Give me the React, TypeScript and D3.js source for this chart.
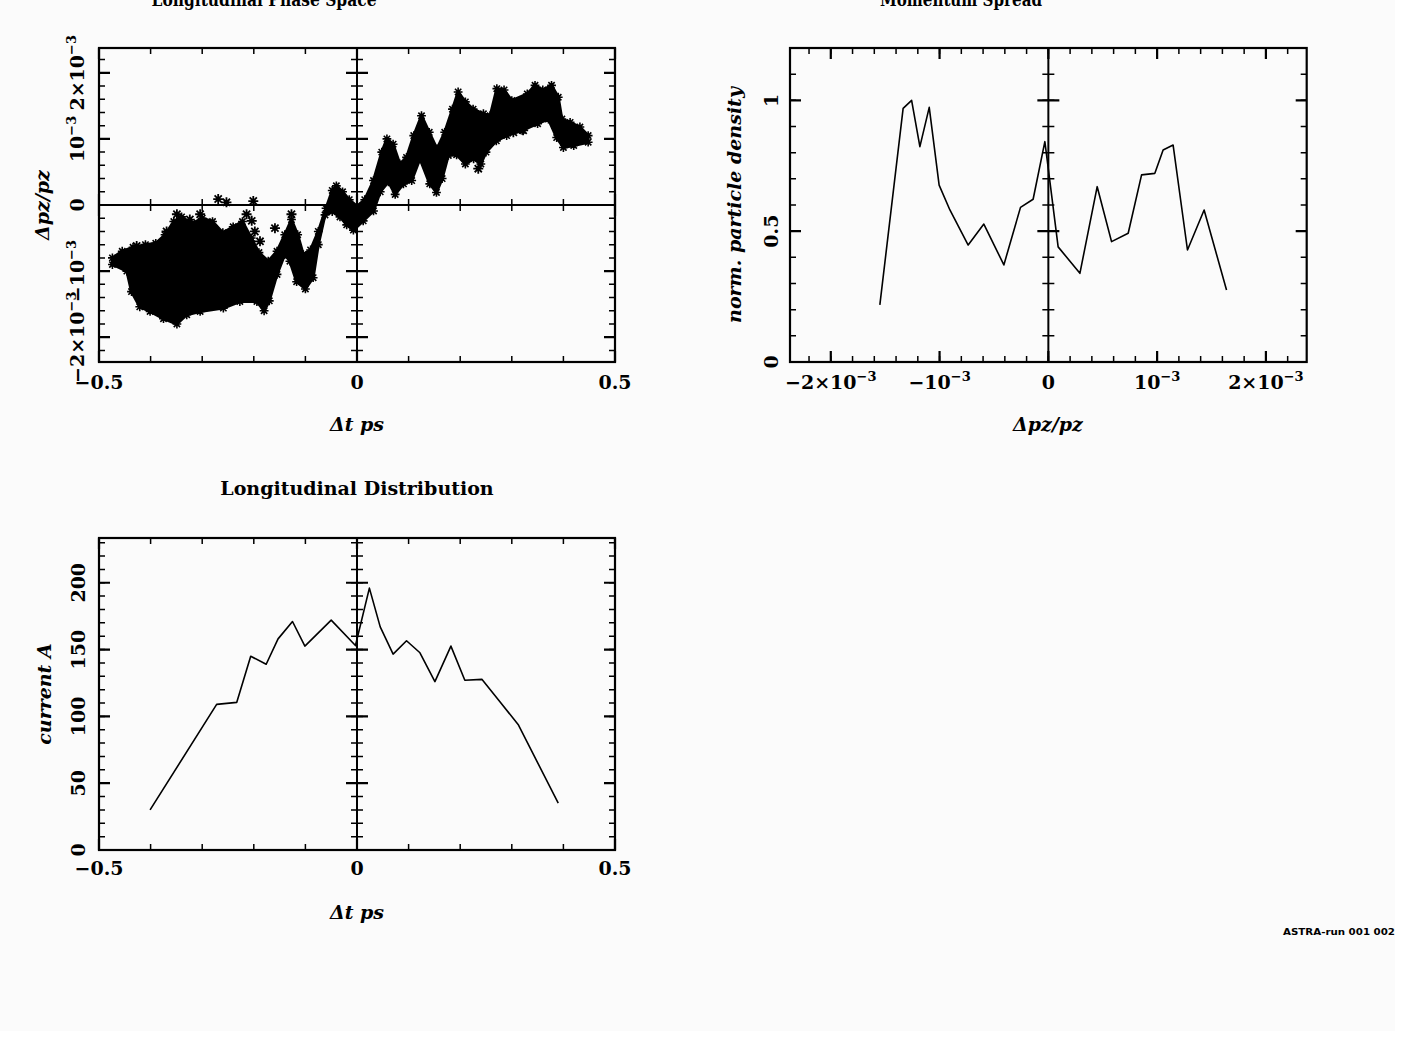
import React from "react";
import * as d3 from "d3";

// ---- values ----

// phase space cloud outline: dt [ps], dpz/pz in units of 1e-3
const cloudTopT = [-0.474, -0.455, -0.434, -0.41, -0.39, -0.372, -0.355, -0.34, -0.32, -0.3, -0.28, -0.26, -0.24, -0.222, -0.205, -0.19, -0.172, -0.155, -0.14, -0.127, -0.115, -0.104, -0.09, -0.075, -0.06, -0.048, -0.04, -0.028, -0.015, 0.0, 0.015, 0.032, 0.048, 0.058, 0.07, 0.083, 0.096, 0.11, 0.125, 0.14, 0.155, 0.17, 0.185, 0.196, 0.21, 0.225, 0.245, 0.258, 0.271, 0.285, 0.3, 0.33, 0.345, 0.36, 0.377, 0.39, 0.397, 0.413, 0.432, 0.448];
const cloudTopDp = [-0.8, -0.7, -0.64, -0.6, -0.58, -0.45, -0.25, -0.18, -0.28, -0.2, -0.25, -0.42, -0.33, -0.25, -0.5, -0.72, -0.85, -0.7, -0.45, -0.22, -0.45, -0.75, -0.68, -0.4, -0.05, 0.22, 0.29, 0.2, 0.08, -0.02, 0.08, 0.37, 0.8, 1.0, 0.92, 0.62, 0.72, 1.05, 1.35, 1.1, 0.85, 1.1, 1.45, 1.71, 1.56, 1.45, 1.38, 1.35, 1.76, 1.74, 1.58, 1.68, 1.81, 1.74, 1.81, 1.63, 1.3, 1.25, 1.18, 1.05];
const cloudBottomT = [0.448, 0.42, 0.4, 0.387, 0.371, 0.35, 0.32, 0.29, 0.27, 0.25, 0.24, 0.226, 0.21, 0.193, 0.177, 0.165, 0.154, 0.141, 0.122, 0.106, 0.09, 0.074, 0.061, 0.045, 0.032, 0.012, -0.007, -0.02, -0.033, -0.048, -0.062, -0.075, -0.085, -0.1, -0.117, -0.13, -0.14, -0.155, -0.17, -0.18, -0.194, -0.227, -0.259, -0.304, -0.33, -0.349, -0.375, -0.401, -0.421, -0.437, -0.446, -0.474];
const cloudBottomDp = [0.95, 0.9, 0.87, 1.02, 1.3, 1.23, 1.13, 1.05, 0.97, 0.8, 0.62, 0.7, 0.62, 0.76, 0.75, 0.4, 0.19, 0.32, 0.7, 0.37, 0.32, 0.16, 0.35, 0.2, -0.09, -0.24, -0.38, -0.3, -0.18, -0.1, -0.15, -0.6, -1.1, -1.27, -1.16, -0.85, -0.75, -1.05, -1.45, -1.6, -1.46, -1.46, -1.56, -1.61, -1.66, -1.8, -1.72, -1.61, -1.54, -1.31, -1.0, -0.9];
// stray particles outside the main body
const strayT = [-0.466, -0.427, -0.369, -0.349, -0.324, -0.304, -0.269, -0.253, -0.214, -0.204, -0.201, -0.198, -0.207, -0.188, -0.159, -0.127, 0.235, 0.262, 0.303, 0.322];
const strayDp = [-0.85, -0.62, -0.4, -0.14, -0.22, -0.14, 0.09, 0.04, -0.14, -0.24, 0.06, -0.4, -0.55, -0.55, -0.35, -0.14, 0.55, 1.0, 1.1, 1.13];

// momentum spectrum: dpz/pz in 1e-3, normalised density
const specDp = [-1.549, -1.335, -1.257, -1.181, -1.095, -1.004, -0.905, -0.737, -0.593, -0.409, -0.256, -0.14, -0.032, 0.09, 0.29, 0.449, 0.581, 0.734, 0.857, 0.979, 1.055, 1.147, 1.279, 1.432, 1.638];
const specDensity = [0.218, 0.969, 1.0, 0.823, 0.973, 0.676, 0.581, 0.447, 0.527, 0.371, 0.591, 0.622, 0.842, 0.44, 0.339, 0.67, 0.46, 0.492, 0.715, 0.721, 0.81, 0.829, 0.428, 0.581, 0.275];

// longitudinal current profile: dt [ps], current [A]
const currT = [-0.401, -0.272, -0.233, -0.206, -0.176, -0.153, -0.125, -0.101, -0.05, -0.003, 0.024, 0.045, 0.07, 0.096, 0.122, 0.151, 0.182, 0.209, 0.242, 0.277, 0.313, 0.39];
const currAmp = [30, 109, 110.5, 145, 139, 158, 171, 152.6, 172, 153, 196, 167, 146.6, 156.6, 147.6, 126, 152.6, 127, 127.7, 111, 93.5, 35];

// ticks
const timeTicks = [-0.5, 0, 0.5];
const timeTickLabels = ["\u22120.5", "0", "0.5"];
const dpTicks = [-2, -1, 0, 1, 2];
const dpTickMant = ["\u22122\u00d710", "\u221210", "0", "10", "2\u00d710"];
const dpTickExp = ["\u22123", "\u22123", "", "\u22123", "\u22123"];
const densityTicks = [0, 0.5, 1];
const densityTickLabels = ["0", "0.5", "1"];
const currentTicks = [0, 50, 100, 150, 200];
const currentTickLabels = ["0", "50", "100", "150", "200"];

const FONT = "'DejaVu Serif', 'Liberation Serif', serif";
const MAJ = 11;
const MIN = 6;

type Scale = d3.ScaleLinear<number, number>;

function Panel(props: {
  x: Scale; y: Scale;
  xMajor: number[]; xMinor: number[];
  yMajor: number[]; yMinor: number[];
  crossX?: boolean; crossY?: boolean;
  children?: React.ReactNode;
}) {
  const { x, y, xMajor, xMinor, yMajor, yMinor, crossX, crossY } = props;
  const [l, r] = x.range();
  const [b, t] = y.range();
  const segs: string[] = [];
  const thin: string[] = [];
  const add = (arr: string[], x1: number, y1: number, x2: number, y2: number) =>
    arr.push(`M${x1},${y1}L${x2},${y2}`);
  xMajor.forEach((v) => {
    const px = x(v);
    add(segs, px, b, px, b - MAJ);
    add(segs, px, t, px, t + MAJ);
    if (crossY) add(segs, px, y(0) - MAJ, px, y(0) + MAJ);
  });
  xMinor.forEach((v) => {
    const px = x(v);
    add(thin, px, b, px, b - MIN);
    add(thin, px, t, px, t + MIN);
    if (crossY) add(thin, px, y(0) - MIN, px, y(0) + MIN);
  });
  yMajor.forEach((v) => {
    const py = y(v);
    add(segs, l, py, l + MAJ, py);
    add(segs, r, py, r - MAJ, py);
    if (crossX) add(segs, x(0) - MAJ, py, x(0) + MAJ, py);
  });
  yMinor.forEach((v) => {
    const py = y(v);
    add(thin, l, py, l + MIN, py);
    add(thin, r, py, r - MIN, py);
    if (crossX) add(thin, x(0) - MIN, py, x(0) + MIN, py);
  });
  return (
    <g>
      {props.children}
      <path d={thin.join("")} stroke="#000" strokeWidth={1.5} fill="none" />
      <path d={segs.join("")} stroke="#000" strokeWidth={2.2} fill="none" />
      {crossX && <line x1={x(0)} x2={x(0)} y1={b} y2={t} stroke="#000" strokeWidth={2} />}
      {crossY && <line x1={l} x2={r} y1={y(0)} y2={y(0)} stroke="#000" strokeWidth={2.2} />}
      <rect x={l} y={t} width={r - l} height={b - t} fill="none" stroke="#000" strokeWidth={2.2} />
    </g>
  );
}

function XLabels({ x, baseline, ticks, labels }: { x: Scale; baseline: number; ticks: number[]; labels: string[] }) {
  return (
    <g fontFamily={FONT} fontSize={19} fontWeight="bold" textAnchor="middle">
      {ticks.map((v, i) => (
        <text key={i} x={x(v)} y={baseline}>{labels[i]}</text>
      ))}
    </g>
  );
}

function ExpLabel({ mant, exp }: { mant: string; exp: string }) {
  if (!exp) return <>{mant}</>;
  return (
    <>
      {mant}
      <tspan fontSize={13} dy={-8}>{exp}</tspan>
    </>
  );
}

function star(cx: number, cy: number, r: number) {
  const d = r * 0.72;
  return `M${cx - r},${cy}L${cx + r},${cy}M${cx},${cy - r}L${cx},${cy + r}` +
    `M${cx - d},${cy - d}L${cx + d},${cy + d}M${cx - d},${cy + d}L${cx + d},${cy - d}`;
}

export default function App() {
  // top left: phase space
  const x1 = d3.scaleLinear().domain([-0.5, 0.5]).range([99, 615]);
  const y1 = d3.scaleLinear().domain([-2.375, 2.375]).range([362, 48]);
  // top right: momentum spectrum
  const x2 = d3.scaleLinear().domain([-2.375, 2.375]).range([790, 1306.7]);
  const y2 = d3.scaleLinear().domain([0, 1.2]).range([362, 48]);
  // bottom left: current
  const x3 = d3.scaleLinear().domain([-0.5, 0.5]).range([99, 615]);
  const y3 = d3.scaleLinear().domain([0, 233.5]).range([850, 538]);

  const timeMinor = d3.range(-5, 6).map((i) => i / 10);
  const dpMinor = d3.range(-11, 12).map((i) => i * 0.2);
  const densMinor = d3.range(0, 12).map((i) => i / 10);
  const currMinor = d3.range(0, 24).map((i) => i * 10);

  const cloudPts: [number, number][] = [
    ...cloudTopT.map((t, i) => [x1(t), y1(cloudTopDp[i])] as [number, number]),
    ...cloudBottomT.map((t, i) => [x1(t), y1(cloudBottomDp[i])] as [number, number]),
  ];
  const cloudPath = d3.line().curve(d3.curveLinearClosed)(cloudPts) || "";
  const edgeStars = cloudPts.map(([px, py]) => star(px, py, 4.4)).join("");
  const strayStars = strayT.map((t, i) => star(x1(t), y1(strayDp[i]), 5)).join("");

  const specLine = d3.line<number>()
    .x((d) => x2(d))
    .y((_, i) => y2(specDensity[i]))(specDp) || "";
  const currLine = d3.line<number>()
    .x((d) => x3(d))
    .y((_, i) => y3(currAmp[i]))(currT) || "";

  const yLabel = (cx: number, cy: number, content: React.ReactNode, italic = true) => (
    <text transform={`translate(${cx},${cy}) rotate(-90)`} textAnchor="middle"
      fontFamily={FONT} fontSize={19} fontWeight="bold" fontStyle={italic ? "italic" : "normal"}>
      {content}
    </text>
  );

  return (
    <svg width={1401} height={1038} style={{ position: "absolute", left: 0, top: 0, background: "#fff" }}>
      <rect x={0} y={0} width={1395} height={1031} fill="#fbfbfb" />

      {/* titles (top two are cut at the page edge, as in the original) */}
      <g fontFamily={FONT} fontSize={19} fontWeight="bold" textAnchor="middle">
        <text x={264} y={6} textLength={225} lengthAdjust="spacingAndGlyphs">Longitudinal Phase Space</text>
        <text x={961} y={6} textLength={162} lengthAdjust="spacingAndGlyphs">Momentum Spread</text>
        <text x={357} y={495}>Longitudinal Distribution</text>
      </g>

      {/* ---- phase space ---- */}
      <Panel x={x1} y={y1} xMajor={timeTicks} xMinor={timeMinor} yMajor={dpTicks} yMinor={dpMinor} crossX crossY>
        <path d={cloudPath} fill="#000" stroke="#000" strokeWidth={3} strokeLinejoin="round" />
        <path d={edgeStars} stroke="#000" strokeWidth={1.6} fill="none" />
        <path d={strayStars} stroke="#000" strokeWidth={1.8} fill="none" />
      </Panel>
      <XLabels x={x1} baseline={389} ticks={timeTicks} labels={timeTickLabels} />
      <g>
        {dpTicks.map((v, i) => (
          <text key={i} transform={`translate(84,${y1(v)}) rotate(-90)`} textAnchor="middle"
            fontFamily={FONT} fontSize={19} fontWeight="bold">
            <ExpLabel mant={dpTickMant[i]} exp={dpTickExp[i]} />
          </text>
        ))}
      </g>
      {yLabel(49, 205, <>{"\u0394pz/pz"}</>)}
      <text x={357} y={431} textAnchor="middle" fontFamily={FONT} fontSize={19} fontWeight="bold" fontStyle="italic">
        {"\u0394t ps"}
      </text>

      {/* ---- momentum spectrum ---- */}
      <Panel x={x2} y={y2} xMajor={dpTicks} xMinor={dpMinor} yMajor={densityTicks} yMinor={densMinor} crossX>
        <path d={specLine} fill="none" stroke="#000" strokeWidth={1.6} strokeLinejoin="round" />
      </Panel>
      <g fontFamily={FONT} fontSize={19} fontWeight="bold" textAnchor="middle">
        {dpTicks.map((v, i) => (
          <text key={i} x={x2(v)} y={389}>
            <ExpLabel mant={dpTickMant[i]} exp={dpTickExp[i]} />
          </text>
        ))}
        {densityTicks.map((v, i) => (
          <text key={"d" + i} transform={`translate(778,${y2(v)}) rotate(-90)`}>{densityTickLabels[i]}</text>
        ))}
      </g>
      {yLabel(741, 205, "norm. particle density")}
      <text x={1048} y={431} textAnchor="middle" fontFamily={FONT} fontSize={19} fontWeight="bold" fontStyle="italic">
        {"\u0394pz/pz"}
      </text>

      {/* ---- current profile ---- */}
      <Panel x={x3} y={y3} xMajor={timeTicks} xMinor={timeMinor} yMajor={currentTicks} yMinor={currMinor} crossX>
        <path d={currLine} fill="none" stroke="#000" strokeWidth={1.6} strokeLinejoin="round" />
      </Panel>
      <XLabels x={x3} baseline={875} ticks={timeTicks} labels={timeTickLabels} />
      <g fontFamily={FONT} fontSize={19} fontWeight="bold" textAnchor="middle">
        {currentTicks.map((v, i) => (
          <text key={i} transform={`translate(85,${y3(v)}) rotate(-90)`}>{currentTickLabels[i]}</text>
        ))}
      </g>
      {yLabel(51, 694, "current A")}
      <text x={357} y={919} textAnchor="middle" fontFamily={FONT} fontSize={19} fontWeight="bold" fontStyle="italic">
        {"\u0394t ps"}
      </text>

      {/* plot stamp */}
      <text x={1283} y={935} fontFamily="'DejaVu Sans', sans-serif" fontSize={8} fontWeight="bold"
        textLength={112} lengthAdjust="spacingAndGlyphs">ASTRA-run  001  002</text>
    </svg>
  );
}
